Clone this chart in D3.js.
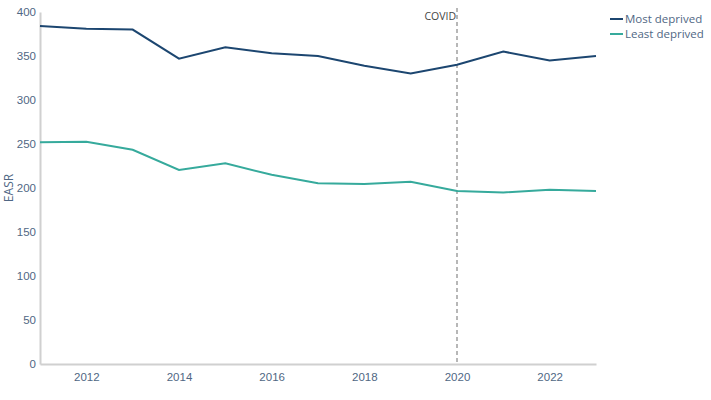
<!DOCTYPE html>
<html>
<head>
  <meta charset="UTF-8">
  <style>
    body { margin: 0; padding: 0; background: #fff; font-family: 'Open Sans', sans-serif; }
    svg { display: block; }
    .tick text { fill: #506784; font-size: 11.5px; }
  </style>
</head>
<body>
<svg id="chart" width="711" height="400"></svg>
<script src="https://d3js.org/d3.v7.min.js"></script>
<script>
const years = [2011, 2012, 2013, 2014, 2015, 2016, 2017, 2018, 2019, 2020, 2021, 2022, 2023];
const mostDeprived = [384, 381, 380, 347, 360, 353, 350, 339, 330, 340, 355, 345, 350];
const leastDeprived = [252, 252.5, 243.5, 220.5, 228, 215, 205.5, 204.5, 207, 196.5, 195, 198, 196.5];
const xTicks = [2012, 2014, 2016, 2018, 2020, 2022];
const yTicks = [0, 50, 100, 150, 200, 250, 300, 350, 400];
const seriesNames = ["Most deprived", "Least deprived"];
const seriesColors = ["#1c4670", "#36aa9c"];
const covidYear = 2020;

let svg = d3.select("#chart");
let margin = { left: 40, right: 115, top: 12, bottom: 36 };
let width = 711, height = 400;

let x = d3.scaleLinear().domain([2011, 2023]).range([margin.left, width - margin.right]);
let y = d3.scaleLinear().domain([0, 400]).range([height - margin.bottom, margin.top]);

// axes
let xAxis = svg.append("g")
    .attr("transform", `translate(0,${height - margin.bottom})`)
    .call(d3.axisBottom(x).tickValues(xTicks).tickFormat(d3.format("d")).tickSize(0).tickPadding(9));
xAxis.select(".domain").attr("stroke", "#d0d0d0").attr("stroke-width", 2);

let yAxis = svg.append("g")
    .attr("transform", `translate(${margin.left},0)`)
    .call(d3.axisLeft(y).tickValues(yTicks).tickSize(0).tickPadding(4));
yAxis.select(".domain").attr("stroke", "#d0d0d0").attr("stroke-width", 2);

svg.append("text")
    .attr("transform", `translate(13,${(y(0) + y(400)) / 2}) rotate(-90)`)
    .attr("text-anchor", "middle")
    .attr("fill", "#506784")
    .style("font-size", "12px")
    .text("EASR");

// covid marker
svg.append("line")
    .attr("x1", x(covidYear)).attr("x2", x(covidYear))
    .attr("y1", 8).attr("y2", y(0))
    .attr("stroke", "#888")
    .attr("stroke-width", 1.2)
    .attr("stroke-dasharray", "4,3");

svg.append("text")
    .attr("x", x(covidYear) - 1)
    .attr("y", 20)
    .attr("text-anchor", "end")
    .attr("fill", "#444")
    .style("font-size", "10.5px")
    .text("COVID");

// lines
let line = d3.line()
    .x((d, i) => x(years[i]))
    .y(d => y(d));

[mostDeprived, leastDeprived].forEach((s, k) => {
    svg.append("path")
        .datum(s)
        .attr("fill", "none")
        .attr("stroke", seriesColors[k])
        .attr("stroke-width", 2)
        .attr("d", line);
});

// legend
let legend = svg.append("g").attr("transform", "translate(610,19)");
seriesNames.forEach((name, k) => {
    let row = legend.append("g").attr("transform", `translate(0,${k * 15})`);
    row.append("line")
        .attr("x1", 0).attr("x2", 13)
        .attr("stroke", seriesColors[k])
        .attr("stroke-width", 2);
    row.append("text")
        .attr("x", 15)
        .attr("y", 4)
        .attr("fill", "#506784")
        .style("font-size", "11.5px")
        .text(name);
});
</script>
</body>
</html>
